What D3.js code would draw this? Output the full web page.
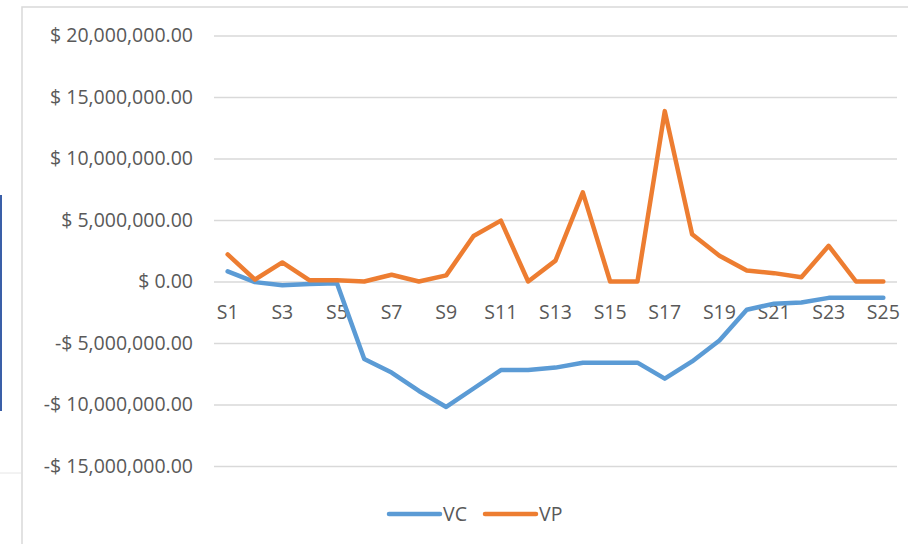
<!DOCTYPE html>
<html>
<head>
<meta charset="utf-8">
<script src="https://cdn.jsdelivr.net/npm/d3@7"></script>
<style>
  body { margin: 0; background: #fff; }
  text { font-family: "Open Sans", sans-serif; fill: #595959; }
</style>
</head>
<body>
<div id="chart"></div>
<script>
// data
var categories = ["S1","S2","S3","S4","S5","S6","S7","S8","S9","S10","S11","S12","S13",
                  "S14","S15","S16","S17","S18","S19","S20","S21","S22","S23","S24","S25"];
var vcValues = [0.82, -0.05, -0.3, -0.2, -0.15, -6.3, -7.4, -8.9, -10.2, -8.7, -7.2, -7.2, -7.0,
                -6.6, -6.6, -6.6, -7.9, -6.5, -4.8, -2.3, -1.8, -1.7, -1.33, -1.33, -1.33];
var vpValues = [2.2, 0.15, 1.55, 0.1, 0.1, 0.0, 0.55, 0.0, 0.5, 3.7, 4.95, 0.0, 1.7,
                7.25, 0.0, 0.0, 13.85, 3.85, 2.1, 0.9, 0.68, 0.35, 2.9, 0.0, 0.0];
var yTicks = [-15, -10, -5, 0, 5, 10, 15, 20];
var seriesNames = ["VC", "VP"];
var seriesColors = ["#5B9BD5", "#ED7D31"];

var width = 908, height = 544;
var fontSize = "19.5px";

var svg = d3.select("#chart")
  .append("svg")
    .attr("width", width)
    .attr("height", height);

// stuff outside the chart frame
svg.append("rect")
    .attr("x", 0).attr("y", 195)
    .attr("width", 2).attr("height", 216)
    .attr("fill", "#3A5FA8");
svg.append("line")
    .attr("x1", 0).attr("x2", 21)
    .attr("y1", 473).attr("y2", 473)
    .attr("stroke", "#e6e6e6");

// chart frame
svg.append("rect")
    .attr("x", 22).attr("y", 7)
    .attr("width", 920).attr("height", 560)
    .attr("fill", "#fff")
    .attr("stroke", "#d9d9d9")
    .attr("stroke-width", 1.5);

var x = d3.scaleBand()
    .domain(categories)
    .range([214, 897]);

var y = d3.scaleLinear()
    .domain([-15, 20])
    .range([466, 35.5]);

// y axis: gridlines + labels
var yAxis = svg.append("g")
    .attr("transform", "translate(214,0)")
    .call(d3.axisLeft(y)
        .tickValues(yTicks)
        .tickSize(-683)
        .tickPadding(21)
        .tickFormat(function(d) {
            var s = "$ " + d3.format(",.2f")(Math.abs(d) * 1e6);
            return d < 0 ? "-" + s : s;
        }));
yAxis.select(".domain").remove();
yAxis.selectAll(".tick line")
    .attr("stroke", "#d9d9d9")
    .attr("stroke-width", 1.5);
yAxis.selectAll(".tick text")
    .attr("font-size", fontSize)
    .attr("fill", "#595959");

// category labels next to the zero line
svg.append("g")
  .selectAll("text")
  .data(categories.filter(function(d, i) { return i % 2 == 0; }))
  .enter()
  .append("text")
    .attr("x", function(d) { return x(d) + x.bandwidth() / 2; })
    .attr("y", y(0) + 37)
    .attr("text-anchor", "middle")
    .attr("font-size", fontSize)
    .text(function(d) { return d; });

// lines
var line = d3.line()
    .x(function(d, i) { return x(categories[i]) + x.bandwidth() / 2; })
    .y(function(d) { return y(d); });

[vcValues, vpValues].forEach(function(vals, k) {
    svg.append("path")
        .datum(vals)
        .attr("d", line)
        .attr("fill", "none")
        .attr("stroke", seriesColors[k])
        .attr("stroke-width", 4.5)
        .attr("stroke-linejoin", "round")
        .attr("stroke-linecap", "round");
});

// legend
var legend = svg.append("g")
  .selectAll("g")
  .data(seriesNames)
  .enter()
  .append("g")
    .attr("transform", function(d, i) { return "translate(" + (389 + i * 96) + ",514)"; });

legend.append("line")
    .attr("x1", 0).attr("x2", 51)
    .attr("stroke", function(d, i) { return seriesColors[i]; })
    .attr("stroke-width", 4.5)
    .attr("stroke-linecap", "round");

legend.append("text")
    .attr("x", 54)
    .attr("y", 7)
    .attr("font-size", fontSize)
    .text(function(d) { return d; });
</script>
</body>
</html>
